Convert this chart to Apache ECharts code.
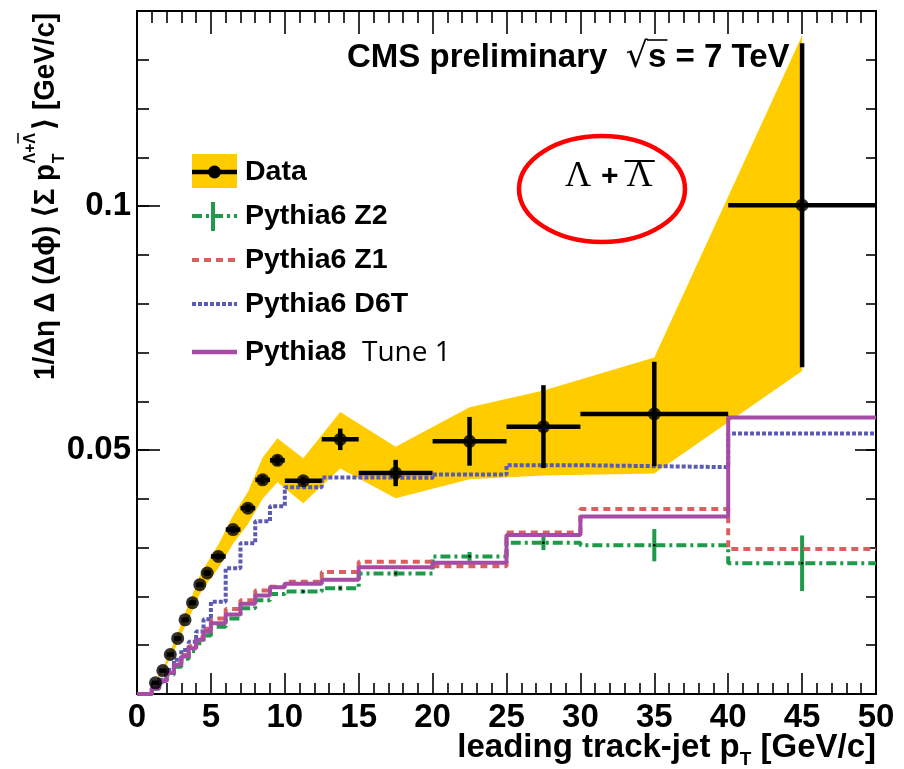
<!DOCTYPE html>
<html>
<head>
<meta charset="utf-8">
<script src="https://cdn.jsdelivr.net/npm/echarts@6/dist/echarts.min.js"></script>
<style>
  html, body { margin: 0; padding: 0; background: #fff; }
  #chart { width: 904px; height: 769px; }
</style>
</head>
<body>
<div id="chart"></div>
<script>
// ---- Lambda + anti-Lambda pT density vs leading track-jet pT ----

// Measured points (bin centres, half widths, values, statistical errors)
const dataX    = [1.25, 1.75, 2.25, 2.75, 3.25, 3.75, 4.25, 4.75, 5.5, 6.5, 7.5, 8.5, 9.5, 11.25, 13.75, 17.5, 22.5, 27.5, 35, 45];
const dataXErr = [0.25, 0.25, 0.25, 0.25, 0.25, 0.25, 0.25, 0.25, 0.5, 0.5, 0.5, 0.5, 0.5, 1.25, 1.25, 2.5, 2.5, 2.5, 5, 5];
const dataY    = [0.0023, 0.0048, 0.0081, 0.0114, 0.0152, 0.0187, 0.0224, 0.0248, 0.0282, 0.0337, 0.0381, 0.0439, 0.0479, 0.0437, 0.0522, 0.0453, 0.0518, 0.0548, 0.0574, 0.1002];
const dataYErr = [0.0002, 0.0003, 0.0003, 0.0004, 0.0004, 0.0005, 0.0005, 0.0006, 0.0006, 0.0007, 0.0008, 0.0009, 0.0010, 0.0008, 0.0022, 0.0027, 0.0050, 0.0085, 0.0107, 0.0332];
// Systematic band edges at the same centres
const systHi   = [0.0025, 0.0052, 0.0088, 0.0124, 0.0165, 0.0203, 0.0243, 0.0269, 0.0306, 0.0366, 0.0414, 0.0485, 0.0524, 0.0483, 0.0578, 0.0507, 0.0588, 0.0622, 0.0690, 0.1350];
const systLo   = [0.0021, 0.0044, 0.0074, 0.0104, 0.0139, 0.0171, 0.0205, 0.0227, 0.0258, 0.0308, 0.0348, 0.0400, 0.0434, 0.0391, 0.0462, 0.0401, 0.0440, 0.0448, 0.0452, 0.0662];

// Monte Carlo histograms (one value per bin)
const binEdges = [0, 1, 1.5, 2, 2.5, 3, 3.5, 4, 4.5, 5, 6, 7, 8, 9, 10, 12.5, 15, 20, 25, 30, 40, 50];
const pythia8  = [0, 0.0012, 0.0026, 0.0043, 0.0060, 0.0077, 0.0094, 0.0111, 0.0128, 0.0145, 0.0163, 0.0185, 0.0202, 0.0219, 0.0226, 0.0234, 0.0260, 0.0269, 0.0326, 0.0364, 0.0567];
const pythiaZ1 = [0, 0.0013, 0.0028, 0.0045, 0.0063, 0.0080, 0.0098, 0.0116, 0.0134, 0.0155, 0.0174, 0.0192, 0.0212, 0.0220, 0.0230, 0.0250, 0.0271, 0.0262, 0.0331, 0.0379, 0.0297];
const pythiaZ2 = [0, 0.0011, 0.0024, 0.0040, 0.0056, 0.0072, 0.0088, 0.0104, 0.0120, 0.0138, 0.0155, 0.0176, 0.0192, 0.0205, 0.0210, 0.0217, 0.0247, 0.0282, 0.0310, 0.0305, 0.0268];
const pythiaZ2Err = [0, 0, 0, 0, 0, 0, 0, 0, 0, 0, 0, 0, 0, 0, 0.0004, 0.0005, 0.0006, 0.0009, 0.0015, 0.0033, 0.0057];
const pythiaD6T = [0, 0.0012, 0.0029, 0.0049, 0.0070, 0.0090, 0.0107, 0.0128, 0.0153, 0.0189, 0.0258, 0.0309, 0.0354, 0.0385, 0.0424, 0.0444, 0.0443, 0.0450, 0.0469, 0.0465, 0.0534];

// Axis ticks
const xMin = 0, xMax = 50, xMajor = 5;
const yMin = 0, yMax = 0.14, yMinorStep = 0.01, yMajorStep = 0.05;
const yTickLabels = [0.05, 0.1];

const legendLabels = ['Data', 'Pythia6 Z2', 'Pythia6 Z1', 'Pythia6 D6T', 'Pythia8'];

// ---- styling ----
const FONT = "'Liberation Sans', Arial, 'DejaVu Sans', sans-serif";
const SERIF = "'Liberation Serif', 'DejaVu Serif', serif";
const C = {
  band: '#ffcc00',
  p8: '#a64ca6',
  z1: '#d9605e',
  z2: '#1f9a4a',
  d6t: '#5b5bb4',
  ink: '#000'
};
const DASH = {
  z1: [7, 5],
  z2: [10, 4, 3, 4],
  d6t: [4, 2]
};
const LABEL_FS = 33;

const measureCtx = document.createElement('canvas').getContext('2d');
function measure(text, size, weight, family) {
  measureCtx.font = `${weight} ${size}px ${family}`;
  return measureCtx.measureText(text).width;
}
function textEl(text, x, y, size, weight, family, extra) {
  return Object.assign({
    type: 'text', x: x, y: y, silent: true,
    style: {
      text: text, fill: C.ink,
      font: `${weight} ${size}px ${family}`,
      align: 'left', textAlign: 'left',
      verticalAlign: 'middle', textVerticalAlign: 'middle'
    }
  }, extra || {});
}
// Lay out text runs along one line; a part may be raised/lowered (dy)
// and "stack" parts share their start position with the next part
function runs(parts) {
  let x = 0; const children = [];
  for (const p of parts) {
    const w = p.weight || 'bold', fam = p.family || FONT;
    const width = measure(p.text, p.size, w, fam);
    p._x = x + (p.dx || 0); p._w = width;
    if (!p.spacer) children.push(textEl(p.text, p._x, p.dy || 0, p.size, w, fam));
    if (!p.stack) x += width + (p.dx || 0);
  }
  return { children, width: x };
}

function stepData(values) {
  return binEdges.map((e, i) => [e, values[Math.min(i, values.length - 1)]]);
}
const binCentres = values => values.map((_, i) => (binEdges[i] + binEdges[i + 1]) / 2);

const chart = echarts.init(document.getElementById('chart'), null, { renderer: 'canvas' });

const axisLineStyle = { color: C.ink, width: 2 };
const tickStyle = { color: C.ink, width: 1.6 };

function xAxis(position, showLabel, majorLen, minorLen) {
  return {
    type: 'value', position: position, min: xMin, max: xMax, interval: xMajor,
    axisLine: { show: true, onZero: false, lineStyle: axisLineStyle },
    axisTick: { show: true, inside: true, length: majorLen, lineStyle: tickStyle },
    minorTick: { show: true, splitNumber: 5, length: minorLen, lineStyle: tickStyle },
    axisLabel: {
      show: showLabel, color: C.ink, fontSize: LABEL_FS, fontWeight: 'bold', fontFamily: FONT,
      margin: 7, showMinLabel: true, showMaxLabel: true
    },
    splitLine: { show: false }, minorSplitLine: { show: false }
  };
}
function yAxis(position, step, tickLen, showLabel) {
  return {
    type: 'value', position: position, min: yMin, max: yMax, interval: step,
    axisLine: { show: true, onZero: false, lineStyle: axisLineStyle },
    axisTick: { show: true, inside: true, length: tickLen, lineStyle: tickStyle },
    axisLabel: {
      show: showLabel, color: C.ink, fontSize: LABEL_FS, fontWeight: 'bold', fontFamily: FONT, margin: 6,
      formatter: v => yTickLabels.some(t => Math.abs(t - v) < 1e-9) ? String(+v.toFixed(3)) : ''
    },
    splitLine: { show: false }
  };
}

function stepSeries(name, values, color, dash, z) {
  return {
    type: 'line', name: name, xAxisIndex: 0, yAxisIndex: 0,
    data: stepData(values), step: 'end', showSymbol: false, symbol: 'none',
    lineStyle: { color: color, width: 4, type: dash || 'solid', cap: 'butt' },
    itemStyle: { color: color }, z: z, silent: true, animation: false, clip: true
  };
}

// ---- legend (pixel space, upper left of the frame) ----
const legendX0 = 192, legendX1 = 237, legendTextX = 245, legendFs = 28.5;
const legendRows = [172, 216, 260, 304, 352];
const legendGraphics = [
  { type: 'rect', shape: { x: legendX0, y: 154, width: legendX1 - legendX0, height: 34 }, style: { fill: C.band }, silent: true },
  { type: 'line', shape: { x1: legendX0, y1: legendRows[0], x2: legendX1, y2: legendRows[0] }, style: { stroke: C.ink, lineWidth: 4.5 }, silent: true },
  { type: 'circle', shape: { cx: (legendX0 + legendX1) / 2, cy: legendRows[0], r: 6.5 }, style: { fill: C.ink }, silent: true },
  { type: 'line', shape: { x1: legendX0, y1: legendRows[1], x2: legendX1, y2: legendRows[1] }, style: { stroke: C.z2, lineWidth: 4, lineDash: DASH.z2 }, silent: true },
  { type: 'line', shape: { x1: 213, y1: legendRows[1] - 14, x2: 213, y2: legendRows[1] + 15 }, style: { stroke: C.z2, lineWidth: 4 }, silent: true },
  { type: 'line', shape: { x1: legendX0, y1: legendRows[2], x2: legendX1, y2: legendRows[2] }, style: { stroke: C.z1, lineWidth: 4, lineDash: DASH.z1 }, silent: true },
  { type: 'line', shape: { x1: legendX0, y1: legendRows[3], x2: legendX1, y2: legendRows[3] }, style: { stroke: C.d6t, lineWidth: 4, lineDash: DASH.d6t }, silent: true },
  { type: 'line', shape: { x1: legendX0, y1: legendRows[4], x2: legendX1, y2: legendRows[4] }, style: { stroke: C.p8, lineWidth: 4.5 }, silent: true }
];
legendLabels.forEach((t, i) => legendGraphics.push(textEl(t, legendTextX, legendRows[i], legendFs, 'bold', FONT)));
legendGraphics.push(textEl('Tune 1', 362, legendRows[4] + 1, 28, 'normal', "'Open Sans', 'DejaVu Sans', sans-serif"));

// ---- y-axis title, rotated to read bottom-to-top ----
const yt = 30, ys = 17;
const yParts = [
  { text: '1/\u0394\u03b7 \u0394 (\u0394\u03d5) \u27e8\u03a3 p', size: yt },
  { text: '\u039b+\u039b', size: ys, dy: -16, dx: 1, stack: true },
  { text: 'T', size: ys, dy: 13, dx: 1, stack: true },
  { text: '\u039b+\u039b', size: ys, dx: 1, spacer: true },
  { text: '\u27e9 [GeV/c]', size: yt, dx: 3 }
];
const yRun = runs(yParts);
const supW = measure('\u039b+', ys, 'bold', FONT), lamW = measure('\u039b', ys, 'bold', FONT);
yRun.children.push({
  type: 'line', silent: true,
  shape: { x1: yParts[1]._x + supW, y1: -28, x2: yParts[1]._x + supW + lamW, y2: -28 },
  style: { stroke: C.ink, lineWidth: 1.5 }
});
// the title runs from just above the frame bottom to the top of the page
const yTitleSpan = 367;
const yTitle = {
  type: 'group', x: 46, y: 380, rotation: Math.PI / 2,
  scaleX: yTitleSpan / yRun.width, children: yRun.children
};

// ---- x-axis title, right-aligned with the frame ----
const xt = 33;
const xRun = runs([
  { text: 'leading track-jet p', size: xt },
  { text: 'T', size: 19, dy: 12 },
  { text: ' [GeV/c]', size: xt }
]);
const xTitle = { type: 'group', x: 876 - xRun.width, y: 748, children: xRun.children };

// ---- experiment label ----
const cmsFs = 33;
const rootFam = "'DejaVu Sans', sans-serif";
const cmsRun = runs([
  { text: 'CMS preliminary  ', size: cmsFs },
  { text: '\u221a', size: 35, weight: 'normal', family: rootFam },
  { text: 's = 7 TeV', size: cmsFs }
]);
const cmsParts = cmsRun.children;
const sX = measure('CMS preliminary  ', cmsFs, 'bold', FONT) + measure('\u221a', 35, 'normal', rootFam);
cmsParts.push({ type: 'line', silent: true, shape: { x1: sX - 1, y1: -18, x2: sX + measure('s', cmsFs, 'bold', FONT) + 1, y2: -18 }, style: { stroke: C.ink, lineWidth: 1.6 } });
const cmsLabel = { type: 'group', x: 347, y: 58, children: cmsParts };

// ---- Lambda + anti-Lambda tag inside the red ellipse ----
const tagFs = 36;
const lamTagW = measure('\u039b', tagFs, 'normal', SERIF);
const plusW = measure('+', 30, 'bold', FONT);
const tag = {
  type: 'group', x: 565, y: 177, children: [
    textEl('\u039b', 0, 0, tagFs, 'normal', SERIF),
    textEl('+', lamTagW + 10, 0, 30, 'bold', FONT),
    textEl('\u039b', lamTagW + 18 + plusW, 0, tagFs, 'normal', SERIF),
    { type: 'line', silent: true, shape: { x1: lamTagW + 16 + plusW, y1: -16, x2: 2 * lamTagW + 20 + plusW, y2: -16 }, style: { stroke: C.ink, lineWidth: 2 } }
  ]
};
const ellipse = { type: 'ellipse', silent: true, shape: { cx: 602, cy: 189, rx: 83, ry: 53 }, style: { fill: 'none', stroke: '#f00', lineWidth: 4.5 } };

const option = {
  backgroundColor: '#fff',
  animation: false,
  grid: { left: 137, right: 28, top: 11, bottom: 75, containLabel: false },
  xAxis: [xAxis('bottom', true, 21, 11), xAxis('top', false, 23, 12)],
  yAxis: [
    yAxis('left', yMinorStep, 12, true),
    yAxis('left', yMajorStep, 23, false),
    yAxis('right', yMinorStep, 10, false),
    yAxis('right', yMajorStep, 21, false)
  ],
  series: [
    {
      // systematic uncertainty band, one polygon through all centres
      type: 'custom', name: 'Data syst.', xAxisIndex: 0, yAxisIndex: 0, z: 1, silent: true, clip: true,
      data: dataX.map((x, i) => [x, systLo[i], systHi[i]]),
      encode: { x: 0, y: [1, 2] },
      renderItem: function (params, api) {
        if (params.dataIndex !== 0) return null;
        const pts = [];
        for (let i = 0; i < dataX.length; i++) pts.push(api.coord([dataX[i], systHi[i]]));
        for (let i = dataX.length - 1; i >= 0; i--) pts.push(api.coord([dataX[i], systLo[i]]));
        return { type: 'polygon', shape: { points: pts }, style: { fill: C.band } };
      }
    },
    stepSeries('Pythia6 Z2', pythiaZ2, C.z2, DASH.z2, 2),
    stepSeries('Pythia6 Z1', pythiaZ1, C.z1, DASH.z1, 3),
    stepSeries('Pythia6 D6T', pythiaD6T, C.d6t, DASH.d6t, 4),
    stepSeries('Pythia8', pythia8, C.p8, 'solid', 5),
    {
      // statistical errors of the Z2 histogram
      type: 'custom', name: 'Pythia6 Z2 errors', z: 3, silent: true, clip: true,
      data: binCentres(pythiaZ2).map((x, i) => [x, pythiaZ2[i], pythiaZ2Err[i]]).filter(d => d[2] > 0),
      encode: { x: 0, y: 1 },
      renderItem: function (params, api) {
        const x = api.value(0), y = api.value(1), e = api.value(2);
        const t = api.coord([x, y + e]), b = api.coord([x, y - e]), c = api.coord([x, y]);
        return {
          type: 'group', children: [
            { type: 'line', shape: { x1: t[0], y1: t[1], x2: b[0], y2: b[1] }, style: { stroke: C.z2, lineWidth: 4 } },
            { type: 'circle', shape: { cx: c[0], cy: c[1], r: 1.3 }, style: { fill: C.ink } }
          ]
        };
      }
    },
    {
      // data error bars
      type: 'custom', name: 'Data errors', z: 6, silent: true, clip: true,
      data: dataX.map((x, i) => [x, dataY[i], dataXErr[i], dataYErr[i]]),
      encode: { x: 0, y: 1 },
      renderItem: function (params, api) {
        const x = api.value(0), y = api.value(1), ex = api.value(2), ey = api.value(3);
        const l = api.coord([x - ex, y]), r = api.coord([x + ex, y]);
        const t = api.coord([x, y + ey]), b = api.coord([x, y - ey]);
        return {
          type: 'group', children: [
            { type: 'line', shape: { x1: l[0], y1: l[1], x2: r[0], y2: r[1] }, style: { stroke: C.ink, lineWidth: 4.5 } },
            { type: 'line', shape: { x1: t[0], y1: t[1], x2: b[0], y2: b[1] }, style: { stroke: C.ink, lineWidth: 4.5 } }
          ]
        };
      }
    },
    {
      type: 'scatter', name: 'Data', z: 7, silent: true,
      data: dataX.map((x, i) => [x, dataY[i]]),
      symbol: 'circle', symbolSize: 13, itemStyle: { color: C.ink }
    }
  ],
  graphic: [ellipse, tag, cmsLabel, yTitle, xTitle].concat(legendGraphics)
};

chart.setOption(option);
</script>
</body>
</html>
